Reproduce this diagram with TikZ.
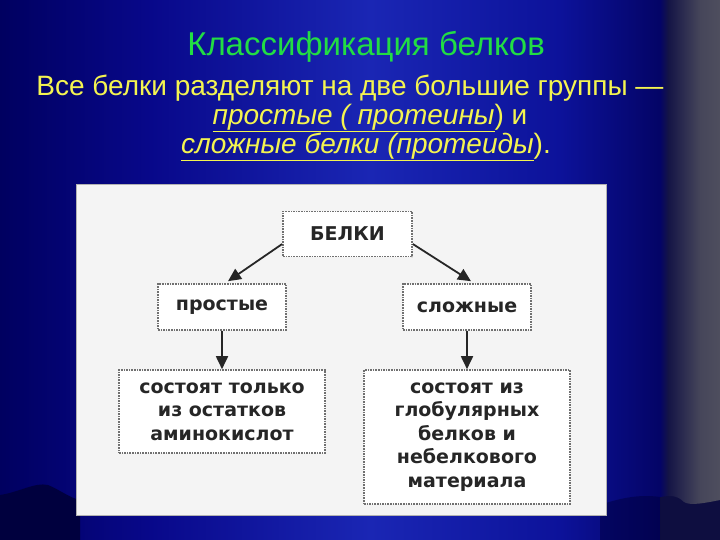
\documentclass[tikz,border=0pt]{standalone}
\usepackage{fontspec}
\setmainfont{Liberation Sans}
\newfontfamily\boxfont{DejaVu Sans}
\usetikzlibrary{arrows.meta}
\definecolor{bgA}{HTML}{000060}
\definecolor{bgB}{HTML}{08088A}
\definecolor{bgC}{HTML}{1A26B4}
\definecolor{bgD}{HTML}{0C129A}
\definecolor{bgE}{HTML}{040466}
\definecolor{curtA}{HTML}{141446}
\definecolor{curtB}{HTML}{46465A}
\definecolor{curtC}{HTML}{4E4E5E}
\definecolor{stage}{HTML}{00003E}
\definecolor{stageR}{HTML}{0E0E40}
\definecolor{titlegreen}{HTML}{22DD44}
\definecolor{textyellow}{HTML}{F4F450}
\definecolor{panel}{HTML}{F4F4F4}
\definecolor{dotgray}{HTML}{707070}
\tikzset{
  titletext/.style={text=titlegreen, font=\fontsize{33}{38}\selectfont, inner sep=0pt},
  yeltext/.style={text=textyellow, font=\fontsize{28}{30}\selectfont, inner sep=0pt},
  bx/.style={draw=dotgray, densely dotted, line width=1.6pt, fill=white, align=center,
     font=\boxfont\bfseries\fontsize{19}{23.5}\selectfont, text=black!85, inner sep=2pt},
  arr/.style={line width=1.8pt, draw=black!85, -{Triangle[width=12pt,length=13pt]}}
}
\begin{document}
\begin{tikzpicture}[x=1pt,y=-1pt]
\useasboundingbox (0,0) rectangle (720,540);
% background
\shade[left color=bgA, right color=bgB] (0,0) rectangle (150,540);
\shade[left color=bgB, right color=bgC] (150,0) rectangle (370,540);
\shade[left color=bgC, right color=bgD] (370,0) rectangle (560,540);
\shade[left color=bgD, right color=bgE] (560,0) rectangle (660,540);
\fill[stageR] (660,0) rectangle (720,540);
% right curtain
\begin{scope}
\clip (660,0) -- (720,0) -- (720,500) .. controls (705,503) and (690,506) .. (684,502) .. controls (676,494) and (668,496) .. (660,497) -- cycle;
\shade[left color=bgE, right color=curtA] (660,0) rectangle (668,540);
\shade[left color=curtA, right color=curtB] (668,0) rectangle (700,540);
\shade[left color=curtB, right color=curtC] (700,0) rectangle (720,540);
\end{scope}
% stage silhouettes
\fill[stage] (0,495) .. controls (20,492) and (35,482) .. (48,485) .. controls (60,490) and (70,498) .. (80,500) -- (80,540) -- (0,540) -- cycle;
\fill[stage, opacity=0.5] (600,505) .. controls (620,498) and (640,494) .. (660,497) -- (660,540) -- (600,540) -- cycle;
% header text
\node[titletext] (title) at (366,47) {Классификация белков};
\node[yeltext] (l2) at (350,88) {Все белки разделяют на две большие группы —};
\node[yeltext] (l3) at (370,118) {\underline{\textit{простые ( протеины}}) и};
\node[yeltext] (l4) at (366,147) {\underline{\textit{сложные белки (протеиды}}).};
% panel
\fill[panel] (76,185) rectangle (606,515);
\draw[gray!60, line width=1pt] (76,185) rectangle (606,515);
% boxes
\node[bx, minimum width=129pt, minimum height=45pt] (belki) at (347.5,234) {БЕЛКИ};
\node[bx, minimum width=128pt, minimum height=46pt] (prost) at (222,307) {простые};
\node[bx, minimum width=128pt, minimum height=46pt] (slozh) at (467,307) {сложные};
\node[bx, minimum width=206pt, minimum height=83pt] (prostd) at (222,411.5) {состоят только\\из остатков\\аминокислот};
\node[bx, minimum width=206pt, minimum height=134pt] (slozhd) at (467,437) {состоят из\\глобулярных\\белков и\\небелкового\\материала};
% arrows
\draw[arr] ([yshift=-10pt]belki.west) -- ([xshift=6pt,yshift=2pt]prost.north);
\draw[arr] ([yshift=-10pt]belki.east) -- ([xshift=4pt,yshift=2pt]slozh.north);
\draw[arr] (prost.south) -- (prostd.north);
\draw[arr] (slozh.south) -- (slozhd.north);
\end{tikzpicture}
\end{document}
